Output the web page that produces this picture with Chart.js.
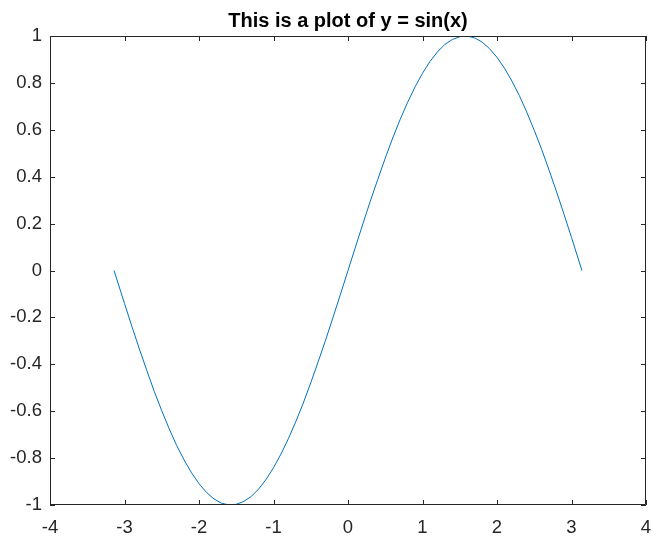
<!DOCTYPE html>
<html>
<head>
<meta charset="utf-8">
<script src="https://cdn.jsdelivr.net/npm/chart.js@4/dist/chart.umd.min.js"></script>
<style>
    html, body { margin: 0; padding: 0; background: #ffffff; }
    #wrap { width: 652px; height: 538px; }
</style>
</head>
<body>
<div id="wrap"><canvas id="sin_chart" width="652" height="538"></canvas></div>
<script>
    // values
    var xValues = [-3.14, -3.0, -2.9, -2.8, -2.7, -2.6, -2.5, -2.4, -2.3, -2.2, -2.1, -2.0, -1.9, -1.8, -1.7, -1.6,
        -1.5, -1.4, -1.3, -1.2, -1.1, -1.0, -0.9, -0.8, -0.7, -0.6, -0.5, -0.4, -0.3, -0.2, -0.1,
        0, 0.1, 0.2, 0.3, 0.4, 0.5, 0.6, 0.7, 0.8, 0.9, 1.0, 1.1, 1.2, 1.3, 1.4, 1.5,
        1.6, 1.7, 1.8, 1.9, 2.0, 2.1, 2.2, 2.3, 2.4, 2.5, 2.6, 2.7, 2.8, 2.9, 3.0, 3.14];
    var yValues = [0, -0.141, -0.239, -0.335, -0.427, -0.516, -0.598, -0.675, -0.746, -0.808, -0.863, -0.909, -0.946, -0.974, -0.992, -1.0,
        -0.997, -0.985, -0.964, -0.932, -0.891, -0.841, -0.783, -0.717, -0.644, -0.565, -0.479, -0.389, -0.296, -0.199, -0.1,
        0, 0.1, 0.199, 0.296, 0.389, 0.479, 0.565, 0.644, 0.717, 0.783, 0.841, 0.891, 0.932, 0.964, 0.985, 0.997,
        1.0, 0.992, 0.974, 0.946, 0.909, 0.863, 0.808, 0.746, 0.675, 0.598, 0.516, 0.427, 0.335, 0.239, 0.141, 0];
    var xTicks = [-4, -3, -2, -1, 0, 1, 2, 3, 4];
    var yTicks = [-1, -0.8, -0.6, -0.4, -0.2, 0, 0.2, 0.4, 0.6, 0.8, 1];
    var titleText = 'This is a plot of y = sin(x)';

    var axisColor = '#262626';
    var fontFamily = 'Arial, "Liberation Sans", sans-serif';

    var points = xValues.map(function (x, i) {
        return {x: x, y: yValues[i]};
    });

    // matlab style box with ticks pointing inwards, title centred over the axes
    var boxPlugin = {
        id: 'boxPlugin',
        afterDraw: function (chart) {
            var ctx = chart.ctx;
            var area = chart.chartArea;
            var xs = chart.scales.x;
            var ys = chart.scales.y;
            var len = 5;
            ctx.save();
            ctx.strokeStyle = axisColor;
            ctx.lineWidth = 1;
            ctx.beginPath();
            ctx.rect(area.left + 0.5, area.top + 0.5, area.right - area.left - 1, area.bottom - area.top - 1);
            xTicks.forEach(function (v) {
                var px = Math.round(xs.getPixelForValue(v)) + 0.5;
                ctx.moveTo(px, area.bottom);
                ctx.lineTo(px, area.bottom - len);
                ctx.moveTo(px, area.top);
                ctx.lineTo(px, area.top + len);
            });
            yTicks.forEach(function (v) {
                var py = Math.round(ys.getPixelForValue(v)) + 0.5;
                ctx.moveTo(area.left, py);
                ctx.lineTo(area.left + len, py);
                ctx.moveTo(area.right, py);
                ctx.lineTo(area.right - len, py);
            });
            ctx.stroke();

            ctx.fillStyle = '#000000';
            ctx.font = 'bold 20px ' + fontFamily;
            ctx.textAlign = 'center';
            ctx.textBaseline = 'alphabetic';
            ctx.fillText(titleText, (area.left + area.right) / 2, 27);
            ctx.restore();
        }
    };

    var fmt = function (v) {
        return String(Number(v.toFixed(1)));
    };

    new Chart(document.getElementById('sin_chart'), {
        type: 'line',
        data: {
            datasets: [{
                data: points,
                borderColor: '#0072BD',
                borderWidth: 1,
                pointRadius: 0,
                fill: false,
                tension: 0,
            }]
        },
        options: {
            responsive: false,
            animation: false,
            layout: {
                padding: {left: 0, right: 6, top: 36, bottom: 0}
            },
            plugins: {
                legend: {display: false},
                tooltip: {enabled: false},
                title: {display: false}
            },
            scales: {
                x: {
                    type: 'linear',
                    min: -4,
                    max: 4,
                    afterBuildTicks: function (scale) {
                        scale.ticks = xTicks.map(function (v) { return {value: v}; });
                    },
                    afterFit: function (scale) {
                        scale.height = 33;
                        scale.paddingLeft = 0;
                        scale.paddingRight = 0;
                    },
                    grid: {display: false, drawTicks: false},
                    border: {display: false},
                    ticks: {
                        color: axisColor,
                        padding: 12,
                        maxRotation: 0,
                        font: {family: fontFamily, size: 18.5},
                        callback: fmt,
                    }
                },
                y: {
                    type: 'linear',
                    min: -1,
                    max: 1,
                    afterBuildTicks: function (scale) {
                        scale.ticks = yTicks.map(function (v) { return {value: v}; });
                    },
                    afterFit: function (scale) {
                        scale.width = 50;
                        scale.paddingTop = 0;
                        scale.paddingBottom = 0;
                    },
                    grid: {display: false, drawTicks: false},
                    border: {display: false},
                    ticks: {
                        color: axisColor,
                        padding: 8,
                        font: {family: fontFamily, size: 18.5},
                        callback: fmt,
                    }
                }
            }
        },
        plugins: [boxPlugin]
    });
</script>
</body>
</html>
